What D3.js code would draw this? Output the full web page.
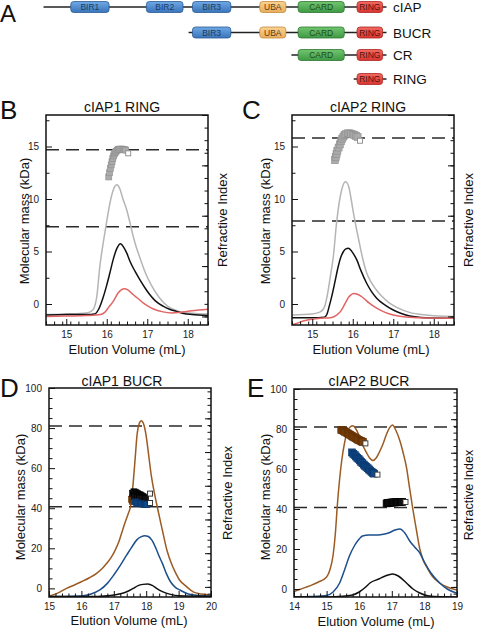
<!DOCTYPE html>
<html><head><meta charset="utf-8">
<script src="https://cdn.jsdelivr.net/npm/d3@7"></script>
<style>
body{margin:0;background:#fff;}
svg{display:block;font-family:"Liberation Sans",Arial,Helvetica,sans-serif;}
</style></head><body>
<svg id="c" width="477" height="629"></svg>
<script>
// ---------- Panel A: domain architecture ----------
const constructs = ["cIAP", "BUCR", "CR", "RING"];
const constructStart = [1, 262, 447, 559];
const constructEnd = [618, 618, 618, 618];
const domainNames = ["BIR1", "BIR2", "BIR3", "UBA", "CARD", "RING"];
const domainStart = [50, 186, 269, 390, 459, 565];
const domainEnd = [119, 252, 338, 437, 542, 611];
const constructDomains = [[0,1,2,3,4,5], [2,3,4,5], [4,5], [5]];

// ---------- Panel B: cIAP1 RING ----------
const bGray = [[14.5,-1.0],[15.0,-0.95],[15.5,-0.85],[15.65,-0.6],[15.75,0.6],[15.83,3.6],[15.92,6.0],[16.0,7.9],[16.1,10.0],[16.2,11.2],[16.25,11.35],[16.32,11.0],[16.4,10.0],[16.49,9.0],[16.57,7.8],[16.65,6.5],[16.73,5.4],[16.81,4.5],[16.95,3.0],[17.1,1.8],[17.3,0.6],[17.5,-0.2],[17.7,-0.6],[17.9,-0.8],[18.2,-0.9],[18.5,-0.95]];
const bBlack = [[14.5,-1.05],[15.0,-1.0],[15.5,-1.0],[15.7,-0.95],[15.8,-0.5],[15.9,0.5],[16.0,1.8],[16.08,3.0],[16.16,4.25],[16.25,5.3],[16.34,5.75],[16.42,5.4],[16.5,4.8],[16.57,4.1],[16.7,3.1],[16.82,2.3],[16.95,1.5],[17.06,0.9],[17.2,0.3],[17.39,-0.2],[17.55,-0.5],[17.72,-0.7],[17.9,-0.9],[18.1,-1.0],[18.5,-1.1]];
const bRed = [[14.5,-1.2],[15.0,-1.15],[15.5,-1.1],[15.85,-1.0],[15.95,-0.8],[16.05,-0.3],[16.16,0.25],[16.28,1.05],[16.36,1.35],[16.43,1.45],[16.52,1.35],[16.65,0.9],[16.78,0.5],[16.9,0.1],[17.02,-0.2],[17.14,-0.45],[17.39,-0.75],[17.6,-0.85],[17.8,-0.8],[18.1,-0.65],[18.5,-0.5]];
const bMassX = [16.05,16.07,16.09,16.11,16.13,16.15,16.17,16.19,16.21,16.23,16.26,16.29,16.32,16.35,16.38,16.41,16.44,16.47];
const bMassY = [12.1,12.5,12.9,13.25,13.55,13.85,14.1,14.3,14.45,14.55,14.65,14.7,14.75,14.75,14.75,14.72,14.7,14.65];
const bMassLast = [16.53, 14.35];
const bRefLines = [14.7, 7.35];

// ---------- Panel C: cIAP2 RING ----------
const cGray = [[14.5,-1.05],[15.0,-0.95],[15.2,-0.75],[15.3,-0.3],[15.37,0.8],[15.45,2.7],[15.52,4.5],[15.6,7.7],[15.68,10.0],[15.75,11.2],[15.82,11.65],[15.9,11.2],[15.96,10.0],[16.02,8.6],[16.1,7.0],[16.18,5.5],[16.26,4.1],[16.34,3.0],[16.45,2.1],[16.57,1.4],[16.7,0.8],[16.9,0.1],[17.1,-0.35],[17.4,-0.8],[17.8,-1.05],[18.5,-1.2]];
const cBlack = [[14.5,-1.3],[15.0,-1.3],[15.3,-1.25],[15.36,-1.0],[15.42,-0.2],[15.48,0.7],[15.56,2.1],[15.64,3.55],[15.7,4.4],[15.77,5.0],[15.83,5.25],[15.89,5.3],[15.96,5.1],[16.03,4.7],[16.1,4.2],[16.2,3.2],[16.34,2.0],[16.46,1.2],[16.59,0.55],[16.8,-0.1],[17.0,-0.57],[17.2,-0.9],[17.41,-1.14],[17.8,-1.3],[18.5,-1.35]];
const cRed = [[14.5,-2.0],[14.65,-1.8],[14.8,-1.6],[15.0,-1.45],[15.2,-1.36],[15.45,-1.3],[15.6,-1.05],[15.7,-0.7],[15.77,-0.25],[15.84,0.25],[15.89,0.6],[15.95,0.85],[16.02,1.0],[16.1,0.95],[16.2,0.75],[16.27,0.55],[16.4,0.1],[16.59,-0.4],[16.8,-0.8],[17.0,-1.05],[17.2,-1.2],[17.41,-1.27],[17.8,-1.33],[18.5,-1.35]];
const cMassX = [15.56,15.58,15.60,15.62,15.65,15.68,15.71,15.74,15.77,15.80,15.84,15.88,15.92,15.96,16.00,16.04,16.08,16.12];
const cMassY = [13.7,14.0,14.3,14.6,14.9,15.2,15.5,15.75,15.95,16.1,16.2,16.25,16.25,16.2,16.15,16.1,16.0,15.9];
const cMassLast = [16.18, 15.55];
const cRefLines = [15.8, 7.9];

// ---------- Panel D: cIAP1 BUCR ----------
const dBrown = [[15.0,-3.8],[15.25,-2.5],[15.54,0],[15.8,1.8],[16.0,3.3],[16.25,5.3],[16.47,7.5],[16.65,10],[16.78,12.5],[16.92,15.5],[17.04,19],[17.15,23],[17.25,28],[17.35,33],[17.45,37.5],[17.53,42],[17.6,53],[17.66,65],[17.72,77],[17.78,82],[17.85,83.6],[17.92,82],[18.0,76],[18.08,66],[18.16,56],[18.26,47],[18.35,40],[18.5,29],[18.64,19],[18.8,11.5],[18.9,8],[19.03,4.2],[19.2,1.5],[19.45,-1.7],[19.7,-2.8],[20.0,-3.4]];
const dBlue = [[15.0,-4.0],[15.5,-4.0],[16.0,-3.8],[16.3,-2.8],[16.57,-0.8],[16.8,2.5],[17.0,6.7],[17.2,11.5],[17.4,16.7],[17.55,20.5],[17.71,24.2],[17.85,25.8],[17.95,26.3],[18.05,26],[18.17,24.2],[18.3,20],[18.4,16],[18.5,12.5],[18.62,7.5],[18.75,3.3],[18.9,0.5],[19.04,-0.8],[19.3,-2.8],[19.6,-3.5],[20.0,-3.8]];
const dBlack = [[15.0,-4.0],[16.5,-4.0],[16.9,-3.6],[17.2,-2.7],[17.4,-1.7],[17.6,0],[17.75,1.4],[17.9,2.0],[18.05,2.2],[18.2,1.4],[18.32,0],[18.5,-1.6],[18.75,-3.0],[19.0,-3.7],[20.0,-4.0]];
const dMassBrown = [[17.55,44.5],[17.57,43.5],[17.59,45.5],[17.61,44.8]];
const dMassBlack = [[17.58,47.5],[17.62,48.2],[17.66,48],[17.70,47.6],[17.74,47.2],[17.78,46.9],[17.82,46.6],[17.86,46.2],[17.9,45.8],[17.94,45.3],[17.98,44.8],[17.64,46.0],[17.72,45.5],[17.8,45.0]];
const dMassBlue = [[17.66,43.2],[17.70,42.8],[17.74,42.5],[17.78,42.4],[17.82,42.3],[17.86,42.2],[17.90,42.1],[17.94,42.0],[17.98,41.9],[18.02,41.8]];
const dMassLast = [[18.12,47.3],[18.12,42.6]];
const dRefLines = [81, 40.7];

// ---------- Panel E: cIAP2 BUCR ----------
const eBrown = [[14.0,-1.3],[14.25,0.2],[14.5,1.7],[14.75,3.5],[15.0,6.0],[15.1,9.5],[15.2,17],[15.27,28],[15.33,42],[15.4,55],[15.47,65],[15.55,73],[15.63,78.5],[15.72,81],[15.81,81.6],[15.9,80],[16.02,75.8],[16.12,71.5],[16.22,68.3],[16.32,65.5],[16.42,64.3],[16.52,65.5],[16.62,68.5],[16.73,72.5],[16.84,77.5],[16.94,80.8],[17.02,82],[17.12,79.5],[17.25,74],[17.35,68],[17.45,60.8],[17.55,50],[17.64,40.5],[17.75,30],[17.86,20],[17.96,14.5],[18.06,11.3],[18.25,6.2],[18.47,3.0],[18.7,1.0],[19.0,-0.5]];
const eBlue = [[14.0,-4.0],[14.5,-3.8],[15.0,-3.2],[15.2,-1.5],[15.4,3.0],[15.55,9.5],[15.7,16.5],[15.85,21.5],[16.0,25],[16.1,26.5],[16.3,27],[16.5,27],[16.7,27.3],[16.9,28],[17.1,29.5],[17.25,30],[17.4,28],[17.55,24],[17.7,21],[17.86,18],[18.0,13.5],[18.2,8],[18.47,3.0],[18.7,0],[19.0,-2.2]];
const eBlack = [[14.0,-4.0],[15.0,-4.0],[15.5,-3.6],[15.8,-3.0],[16.0,-1.5],[16.2,1.0],[16.33,3.0],[16.6,5.0],[16.8,6.5],[17.02,7.5],[17.2,6.5],[17.45,3.0],[17.65,0],[17.86,-2.0],[18.1,-3.4],[18.5,-3.9],[19.0,-4.0]];
const eMassBrownX = [15.45,15.49,15.53,15.57,15.61,15.65,15.69,15.73,15.77,15.81,15.85,15.89,15.93,15.97,16.01,16.05,16.09,16.12];
const eMassBrownY = [79.5,79.3,79.0,78.6,78.2,77.8,77.4,77.0,76.6,76.2,75.8,75.4,75.0,74.6,74.3,74.0,73.7,73.5];
const eMassBlueX = [15.78,15.82,15.86,15.90,15.94,15.98,16.02,16.06,16.10,16.14,16.18,16.22,16.26,16.30,16.34,16.38,16.42,16.46];
const eMassBlueY = [68.3,67.6,67.0,66.3,65.6,65.0,64.3,63.6,62.9,62.2,61.6,61.0,60.4,59.8,59.2,58.6,58.1,57.7];
const eMassBlackX = [16.84,16.88,16.92,16.96,17.00,17.04,17.08,17.12,17.16,17.20,17.24,17.28,17.32];
const eMassBlackY = [42.8,43.0,43.1,43.2,43.2,43.3,43.3,43.3,43.4,43.4,43.5,43.5,43.6];
const eMassLast = [[16.19,72.8],[16.56,57.2],[17.42,43.5]];
const eRefLines = [81, 40.7];

// ---------- tick values ----------
const ringYMajor = [0, 5, 10, 15];
const ringYMinor = [2.5, 7.5, 12.5, 17.5];
const bucrYMajor = [0, 20, 40, 60, 80, 100];
const bucrYMinor = [5,10,15,25,30,35,45,50,55,65,70,75,85,90,95];
const ringXMajor = [15, 16, 17, 18];
const dXMajor = [15, 16, 17, 18, 19, 20];
const eXMajor = [14, 15, 16, 17, 18, 19];

// ---------- drawing ----------
const svg = d3.select("#c");
const defs = svg.append("defs");
const FONT = '"Liberation Sans",Arial,Helvetica,sans-serif';

// Panel A
const domColors = {
  BIR: ["#6fa9e4", "#3a74bb", "#2b5c96", "#1c3b63"],
  UBA: ["#f9d394", "#e9ad5c", "#c48c3d", "#5a3c12"],
  CARD: ["#72c56f", "#3f9944", "#2c7832", "#1b4a20"],
  RING: ["#f26a61", "#d8362f", "#a72721", "#551210"]
};
Object.entries(domColors).forEach(([k, c]) => {
  const lg = defs.append("linearGradient").attr("id", "g" + k).attr("x1", 0).attr("x2", 0).attr("y1", 0).attr("y2", 1);
  lg.append("stop").attr("offset", "0%").attr("stop-color", c[0]);
  lg.append("stop").attr("offset", "100%").attr("stop-color", c[1]);
});
const res = d3.scaleLinear().domain([1, 618]).range([43.5, 386.5]);
const rowCenters = {cIAP: 7, BUCR: 32.5, CR: 55, RING: 79};
const gA = svg.append("g");
constructs.forEach((name, i) => {
  const cy = rowCenters[name];
  gA.append("line").attr("x1", res(constructStart[i])).attr("x2", res(constructEnd[i]))
    .attr("y1", cy).attr("y2", cy).attr("stroke", "#222").attr("stroke-width", 1.5);
  constructDomains[i].forEach(di => {
    const dn = domainNames[di];
    const key = dn.startsWith("BIR") ? "BIR" : dn;
    const c = domColors[key];
    const x0 = res(domainStart[di]), x1 = res(domainEnd[di]);
    gA.append("rect").attr("x", x0).attr("y", cy - 5.5).attr("width", x1 - x0).attr("height", 11)
      .attr("rx", 3).attr("fill", `url(#g${key})`).attr("stroke", c[2]).attr("stroke-width", 0.8);
    gA.append("text").attr("x", (x0 + x1) / 2).attr("y", cy + 3).attr("text-anchor", "middle")
      .attr("font-size", 8.5).attr("fill", c[3]).text(dn);
  });
  gA.append("text").attr("x", 393).attr("y", cy + 5).attr("font-size", 13.5).attr("fill", "#111").text(name);
});
svg.append("text").attr("x", 0).attr("y", 22).attr("font-size", 24).attr("fill", "#111").text("A");

function toPairs(xs, ys) { return xs.map((x, i) => [x, ys[i]]); }

function range(a, b, s) { const out = []; for (let v = a; v <= b + 1e-9; v += s) out.push(+v.toFixed(3)); return out; }

function panel(p) {
  const g = svg.append("g");
  const x = d3.scaleLinear().domain(p.xDomain).range([p.x0, p.x1]);
  const y = d3.scaleLinear().domain(p.yDomain).range([p.y1, p.y0]);
  const ri = d3.scaleLinear().domain(p.riDomain).range([p.y1, p.y0]);
  const cid = "clip" + p.id;
  defs.append("clipPath").attr("id", cid).append("rect")
    .attr("x", p.x0).attr("y", p.y0).attr("width", p.x1 - p.x0).attr("height", p.y1 - p.y0);
  const plot = g.append("g").attr("clip-path", `url(#${cid})`);
  p.dashes.forEach(v => plot.append("line").attr("x1", p.x0).attr("x2", p.x1)
    .attr("y1", y(v)).attr("y2", y(v)).attr("stroke", "#2a2a2a").attr("stroke-width", 1.5)
    .attr("stroke-dasharray", "13,7"));
  const line = d3.line().x(d => x(d[0])).y(d => y(d[1])).curve(d3.curveMonotoneX);
  p.curves.forEach(c => plot.append("path").attr("d", line(c.data)).attr("fill", "none")
    .attr("stroke", c.color).attr("stroke-width", 1.5));
  p.squares.forEach(s => {
    plot.append("g").selectAll("rect").data(s.data).join("rect")
      .attr("x", d => x(d[0]) - s.size / 2).attr("y", d => y(d[1]) - s.size / 2)
      .attr("width", s.size).attr("height", s.size)
      .attr("fill", s.fill).attr("stroke", s.stroke).attr("stroke-width", s.sw || 0.6);
  });
  g.append("rect").attr("x", p.x0).attr("y", p.y0).attr("width", p.x1 - p.x0).attr("height", p.y1 - p.y0)
    .attr("fill", "none").attr("stroke", "#111").attr("stroke-width", 1.5);
  const style = sel => { sel.select(".domain").remove(); sel.selectAll("line").attr("stroke", "#111").attr("stroke-width", 1);
    sel.selectAll("text").attr("font-size", 10).attr("font-family", FONT).attr("fill", "#222"); sel.attr("font-family", FONT); };
  g.append("g").attr("transform", `translate(0,${p.y1})`)
    .call(d3.axisBottom(x).tickValues(p.xMajor).tickSizeInner(-6).tickSizeOuter(0).tickPadding(6).tickFormat(d3.format("d"))).call(style);
  g.append("g").attr("transform", `translate(0,${p.y1})`)
    .call(d3.axisBottom(x).tickValues(range(p.xDomain[0], p.xDomain[1], 0.2).filter(v => Math.abs(v - Math.round(v)) > 1e-6)).tickSizeInner(-3.5).tickSizeOuter(0).tickFormat("")).call(style);
  g.append("g").attr("transform", `translate(${p.x0},0)`)
    .call(d3.axisLeft(y).tickValues(p.yMajor).tickSizeInner(-6).tickSizeOuter(0).tickPadding(7).tickFormat(d3.format("d"))).call(style);
  g.append("g").attr("transform", `translate(${p.x0},0)`)
    .call(d3.axisLeft(y).tickValues(p.yMinor).tickSizeInner(-3.5).tickSizeOuter(0).tickFormat("")).call(style);
  g.append("g").attr("transform", `translate(${p.x1},0)`)
    .call(d3.axisRight(ri).tickValues(range(Math.ceil(p.riDomain[0]), Math.floor(p.riDomain[1]), 1)).tickSizeInner(-6).tickSizeOuter(0).tickFormat("")).call(style);
  g.append("g").attr("transform", `translate(${p.x1},0)`)
    .call(d3.axisRight(ri).tickValues(range(Math.ceil(p.riDomain[0] / p.riMinor) * p.riMinor, p.riDomain[1], p.riMinor)).tickSizeInner(-3.5).tickSizeOuter(0).tickFormat("")).call(style);
  g.append("text").attr("x", p.titleX).attr("y", p.titleY).attr("text-anchor", "middle").attr("font-size", 14).attr("fill", "#111").text(p.title);
  g.append("text").attr("x", p.letterX).attr("y", p.letterY).attr("font-size", 26).attr("fill", "#111").text(p.letter);
  g.append("text").attr("transform", `translate(${p.ylabX},${p.ylabY}) rotate(-90)`).attr("text-anchor", "middle")
    .attr("dy", "0.35em").attr("font-size", 13).attr("fill", "#111").text("Molecular mass (kDa)");
  g.append("text").attr("transform", `translate(${p.rlabX},${p.rlabY}) rotate(-90)`).attr("text-anchor", "middle")
    .attr("dy", "0.35em").attr("font-size", p.rlabSize || 13).attr("fill", "#111").text("Refractive Index");
  g.append("text").attr("x", p.xlabX).attr("y", p.xlabY).attr("text-anchor", "middle").attr("font-size", 13).attr("fill", "#111").text("Elution Volume (mL)");
}

const grayFill = "#ababab", grayStroke = "#8e8e8e";
panel({id: "B", x0: 46, x1: 208, y0: 115, y1: 325, xDomain: [14.5, 18.5], yDomain: [-2, 18], riDomain: [-0.17, 4.0], riMinor: 0.25,
  xMajor: ringXMajor, yMajor: ringYMajor, yMinor: ringYMinor, dashes: bRefLines,
  curves: [{data: bGray, color: "#b5b5b5"}, {data: bBlack, color: "#111"}, {data: bRed, color: "#e26464"}],
  squares: [{data: toPairs(bMassX, bMassY), size: 6, fill: grayFill, stroke: grayStroke},
            {data: [bMassLast], size: 5, fill: "#fff", stroke: "#888", sw: 0.9}],
  title: "cIAP1 RING", titleX: 122, titleY: 112, letter: "B", letterX: 0, letterY: 119,
  ylabX: 24, ylabY: 221, rlabX: 222, rlabY: 220, xlabX: 127, xlabY: 354});
panel({id: "C", x0: 292, x1: 454, y0: 115, y1: 325, xDomain: [14.5, 18.5], yDomain: [-2, 18], riDomain: [-0.17, 4.0], riMinor: 0.25,
  xMajor: ringXMajor, yMajor: ringYMajor, yMinor: ringYMinor, dashes: cRefLines,
  curves: [{data: cGray, color: "#b5b5b5"}, {data: cBlack, color: "#111"}, {data: cRed, color: "#e26464"}],
  squares: [{data: toPairs(cMassX, cMassY), size: 7, fill: grayFill, stroke: grayStroke},
            {data: [cMassLast], size: 5, fill: "#fff", stroke: "#888", sw: 0.9}],
  title: "cIAP2 RING", titleX: 368, titleY: 112, letter: "C", letterX: 242, letterY: 119,
  ylabX: 265, ylabY: 221, rlabX: 468, rlabY: 220, xlabX: 371, xlabY: 354});
panel({id: "D", x0: 49, x1: 211, y0: 388, y1: 597, xDomain: [15, 20], yDomain: [-4.3, 100], riDomain: [-0.3, 5.9], riMinor: 0.2,
  xMajor: dXMajor, yMajor: bucrYMajor, yMinor: bucrYMinor, dashes: dRefLines,
  curves: [{data: dBrown, color: "#9b5b23"}, {data: dBlue, color: "#1d4f8c"}, {data: dBlack, color: "#111"}],
  squares: [{data: dMassBrown, size: 6, fill: "#7b3f08", stroke: "#5e2f05"},
            {data: dMassBlack, size: 6, fill: "#111", stroke: "#000"},
            {data: dMassBlue, size: 6, fill: "#0f4a8a", stroke: "#0a3366"},
            {data: dMassLast, size: 5, fill: "#fff", stroke: "#222", sw: 0.9}],
  title: "cIAP1 BUCR", titleX: 122, titleY: 386, letter: "D", letterX: 0, letterY: 397,
  ylabX: 20, ylabY: 497, rlabX: 227, rlabY: 493, xlabX: 129, xlabY: 625});
panel({id: "E", x0: 294, x1: 457, y0: 389, y1: 597, xDomain: [14, 19], yDomain: [-4, 100], riDomain: [-0.3, 5.9], riMinor: 0.2,
  xMajor: eXMajor, yMajor: bucrYMajor, yMinor: bucrYMinor, dashes: eRefLines,
  curves: [{data: eBrown, color: "#9b5b23"}, {data: eBlue, color: "#1d4f8c"}, {data: eBlack, color: "#111"}],
  squares: [{data: toPairs(eMassBrownX, eMassBrownY), size: 7, fill: "#7b3f08", stroke: "#5e2f05"},
            {data: toPairs(eMassBlueX, eMassBlueY), size: 7, fill: "#0f4a8a", stroke: "#0a3366"},
            {data: toPairs(eMassBlackX, eMassBlackY), size: 7, fill: "#111", stroke: "#000"},
            {data: eMassLast, size: 5, fill: "#fff", stroke: "#333", sw: 0.9}],
  title: "cIAP2 BUCR", titleX: 369, titleY: 386, letter: "E", letterX: 247, letterY: 397,
  ylabX: 265, ylabY: 497, rlabX: 469, rlabY: 495, rlabSize: 12.5, xlabX: 376, xlabY: 626});
</script>
</body></html>
